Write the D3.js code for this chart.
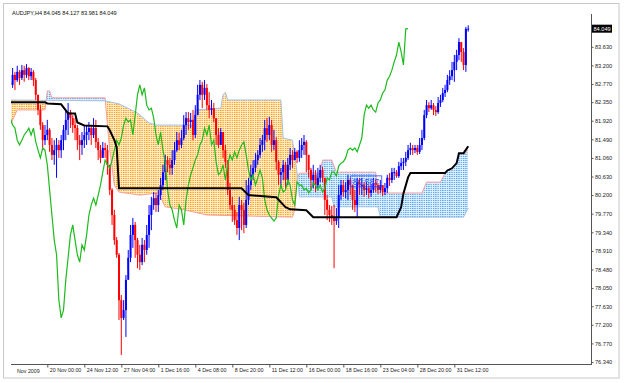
<!DOCTYPE html>
<html>
<head>
<meta charset="utf-8">
<script src="https://cdn.jsdelivr.net/npm/d3@7"></script>
<style>
  body { margin: 0; background: #fff; }
  svg { display: block; }
  text { font-family: "Liberation Sans", Arial, sans-serif; }
</style>
</head>
<body>
<div id="chart"></div>
<script>
// AUDJPY H4, 199 bars (prices)
const closes = [
  82.75,82.98,82.86,83.05,82.91,83.09,82.98,83.14,82.95,83.05,
  82.86,82.52,82.17,81.82,81.47,81.59,81.71,81.36,81.13,81.24,
  81.36,81.24,81.47,81.71,81.94,82.12,81.98,81.82,81.75,81.47,
  81.36,81.47,81.59,81.66,81.75,81.59,81.75,81.43,81.24,81.06,
  81.29,81.24,80.90,80.32,79.74,79.16,78.82,77.77,77.36,77.54,
  78.24,78.75,79.28,79.51,79.16,78.82,78.65,79.05,78.93,79.28,
  79.74,79.97,80.13,79.97,80.20,80.43,80.73,81.01,80.90,80.83,
  81.01,81.24,81.47,81.36,81.52,81.82,81.98,81.89,81.94,81.59,
  82.05,82.52,82.75,82.52,82.68,82.28,82.17,82.21,81.98,81.59,
  81.36,81.66,81.24,80.97,80.32,79.97,79.86,79.62,79.44,79.97,
  79.86,79.51,80.09,80.43,80.67,80.83,81.01,81.13,81.36,81.47,
  81.75,81.59,81.82,81.36,81.47,80.97,80.67,80.73,80.90,80.55,
  80.90,81.13,81.01,81.20,81.06,81.24,81.36,81.43,81.13,80.78,
  80.55,80.67,80.43,80.60,80.78,80.60,80.09,79.86,79.74,79.67,
  79.60,79.67,80.20,80.43,80.27,80.32,80.55,80.43,80.09,79.97,
  80.50,80.43,80.43,80.32,80.36,80.25,80.32,80.48,80.43,80.32,
  80.43,80.27,80.36,80.60,80.55,80.73,80.73,80.64,80.87,80.94,
  80.97,81.06,81.24,81.29,81.24,81.29,81.20,81.36,81.52,82.05,
  82.28,82.21,82.28,82.17,82.12,82.33,82.40,82.56,82.63,82.86,
  82.95,83.09,83.28,83.44,83.74,83.51,83.21,84.045,84.049
];
const highs = [
  83.09,83.14,83.05,83.19,83.09,83.21,83.19,83.23,83.16,83.14,
  83.09,82.91,82.52,82.28,81.89,81.82,81.94,81.75,81.52,81.47,
  81.52,81.47,81.59,81.82,82.17,82.33,82.17,82.05,81.98,81.82,
  81.59,81.66,81.82,81.82,81.89,81.82,81.98,81.94,81.52,81.36,
  81.43,81.41,81.36,80.90,80.36,79.86,79.23,78.86,77.89,77.77,
  78.35,78.93,79.51,79.67,79.58,79.21,79.05,79.21,79.16,79.51,
  79.97,80.16,80.27,80.25,80.32,80.60,80.90,81.13,81.10,81.06,
  81.24,81.43,81.66,81.64,81.71,82.05,82.12,82.12,82.10,82.17,
  82.28,82.75,82.86,82.82,82.86,82.77,82.58,82.40,82.33,81.98,
  81.75,81.75,81.59,81.36,81.01,80.48,80.16,79.97,79.81,80.16,
  80.09,80.02,80.55,80.60,80.90,81.01,81.17,81.24,81.52,81.59,
  81.94,81.98,82.01,81.94,81.71,81.54,81.01,80.83,81.01,80.97,
  81.06,81.29,81.24,81.29,81.24,81.47,81.52,81.59,81.47,81.13,
  80.83,80.90,80.78,80.83,80.90,80.85,80.55,80.20,79.97,79.95,
  79.97,79.90,80.43,80.55,80.55,80.50,80.67,80.60,80.43,80.32,
  80.60,80.60,80.60,80.50,80.50,80.43,80.46,80.60,80.55,80.48,
  80.55,80.43,80.48,80.67,80.71,80.83,80.83,80.78,80.97,81.06,
  81.06,81.20,81.36,81.41,81.36,81.36,81.36,81.52,81.71,82.17,
  82.40,82.35,82.40,82.33,82.26,82.47,82.52,82.68,82.75,82.98,
  83.09,83.28,83.44,83.56,83.83,83.74,83.60,84.09,84.127
];
const lows = [
  82.58,82.68,82.63,82.82,82.75,82.86,82.82,82.91,82.86,82.86,
  82.72,82.40,82.05,81.71,81.24,81.36,81.47,81.20,81.01,80.90,
  80.60,81.06,81.06,81.24,81.47,81.59,81.75,81.64,81.47,81.24,
  81.01,81.13,81.29,81.36,81.47,81.36,81.52,81.29,81.01,80.94,
  81.13,81.06,80.67,80.20,79.51,79.05,78.75,77.31,76.50,77.31,
  76.92,78.47,78.65,78.98,78.75,78.51,78.47,78.58,78.65,78.82,
  78.98,79.39,79.86,79.81,79.81,80.09,80.32,80.55,80.73,80.67,
  80.67,80.90,81.20,81.24,81.29,81.47,81.59,81.71,81.75,81.47,
  81.52,82.05,82.40,82.21,82.40,82.17,81.98,82.05,81.89,81.36,
  81.29,81.36,81.06,80.83,80.20,79.86,79.58,79.51,79.28,79.16,
  79.39,79.32,79.44,79.97,80.32,80.55,80.73,80.90,81.06,81.20,
  81.24,81.43,81.47,81.20,81.24,80.78,80.43,80.36,80.55,80.32,
  80.43,80.78,80.83,81.01,80.94,80.97,81.06,81.13,80.73,80.60,
  80.32,80.36,80.27,80.36,80.50,80.50,79.74,79.62,79.58,79.51,
  78.51,79.51,79.44,80.09,80.16,80.13,80.09,80.20,79.86,79.81,
  79.67,80.20,80.20,80.16,80.20,80.13,80.16,80.25,80.27,80.23,
  80.25,80.18,80.20,80.25,80.41,80.48,80.55,80.60,80.60,80.78,
  80.78,80.87,81.01,81.13,81.13,81.17,81.13,81.15,81.24,81.47,
  81.98,82.12,82.17,82.05,82.03,82.08,82.24,82.35,82.47,82.58,
  82.75,82.86,82.82,83.09,83.32,83.28,83.09,83.05,83.981
];
const FIRST_OPEN = 82.80;

// Ichimoku lines: [bar, price]
const kijun = [
  [0,82.35],[15,82.35],[16,82.32],[22,82.30],[24,82.16],[25,82.09],[28,82.09],
  [29,81.88],[32,81.81],[42,81.79],[43,81.70],[45,81.47],[46,81.31],[47,80.36],
  [100,80.36],[103,80.20],[115,80.15],[119,79.92],[121,79.87],[128,79.85],
  [131,79.69],[167,79.69],[169,79.92],[170,80.24],[172,80.61],[173,80.71],
  [188,80.71],[189,80.77],[191,80.82],[193,80.94],[194,81.17],[196,81.17],[198,81.33]
];
const spanA = [
  [0,81.82],[3,82.17],[15,82.17],[16,82.61],[17,82.61],[18,82.45],[41,82.45],
  [42,81.82],[43,81.24],[45,80.43],[47,80.27],[56,80.20],[64,80.25],[67,79.93],
  [75,79.86],[85,79.74],[122,79.69],[123,79.86],[124,80.55],[125,80.71],
  [134,80.71],[135,81.01],[139,81.01],[141,80.73],[158,80.73],[159,80.25],
  [178,80.25],[180,80.50],[186,80.50],[188,80.71],[189,80.78],[191,80.83],
  [193,80.94],[194,81.17],[197,81.17],[198,81.33]
];
const spanB = [
  [0,82.40],[41,82.38],[47,82.31],[55,82.10],[60,81.87],[63,81.82],[79,81.82],
  [80,82.17],[91,82.21],[92,82.52],[93,82.58],[94,82.40],[117,82.40],[118,81.52],
  [122,81.47],[124,80.73],[125,80.16],[139,80.16],[140,79.93],[159,79.93],
  [160,79.69],[196,79.69],[198,79.90]
];
const CHIKOU_SHIFT = 26;

const priceTicks = [83.63,83.20,82.77,82.35,81.92,81.49,81.06,80.63,80.20,79.77,
                    79.34,78.91,78.48,78.05,77.63,77.20,76.77,76.34];
const dateBars = [16,32,48,64,80,96,112,128,144,160,176,192];
const dateLabels = ["20 Nov 00:00","24 Nov 12:00","27 Nov 04:00","1 Dec 16:00",
  "4 Dec 08:00","8 Dec 20:00","11 Dec 12:00","16 Dec 00:00","18 Dec 16:00",
  "23 Dec 04:00","28 Dec 20:00","31 Dec 12:00"];
const FIRST_LABEL = "Nov 2009";
const TITLE = "AUDJPY,H4  84.045 84.127 83.981 84.049";
const MARK_PRICE = 80.587;
const MARK_BAR = 147;

const W = 625, H = 383;
const PLOT = {left: 11, right: 591, top: 14, bottom: 364};

const svg = d3.select("#chart").append("svg")
  .attr("width", W)
  .attr("height", H);

const x = d3.scaleLinear().domain([0, 198]).range([10.3, 468.2]);
const y = d3.scaleLinear().domain([76.34, 83.63]).range([362, 46.8]);

// frame
svg.append("rect")
  .attr("x", 3.5).attr("y", 3.5)
  .attr("width", 615.5).attr("height", 374.5)
  .attr("fill", "none")
  .attr("stroke", "#c8c8c8");

svg.append("clipPath").attr("id", "plot-clip")
  .append("rect")
  .attr("x", PLOT.left).attr("y", PLOT.top)
  .attr("width", PLOT.right - PLOT.left)
  .attr("height", PLOT.bottom - PLOT.top);

// dotted cloud patterns
const defs = svg.append("defs");
function dotPattern(id, bg, dot) {
  const p = defs.append("pattern")
    .attr("id", id)
    .attr("patternUnits", "userSpaceOnUse")
    .attr("x", x(0) - 0.6).attr("y", 0)
    .attr("width", x(1) - x(0)).attr("height", 2);
  p.append("rect").attr("width", x(1) - x(0)).attr("height", 2).attr("fill", bg);
  p.append("rect").attr("width", 1.3).attr("height", 1.1).attr("fill", dot);
}
dotPattern("dots-orange", "#ffefd2", "#ff9c0a");
dotPattern("dots-blue", "#e4f1fd", "#4ea4f0");

const plot = svg.append("g").attr("clip-path", "url(#plot-clip)");

const areaAbove = pts => d3.area().x(d => x(d[0])).y0(PLOT.top).y1(d => y(d[1]))(pts);
const areaBelow = pts => d3.area().x(d => x(d[0])).y0(d => y(d[1])).y1(PLOT.bottom)(pts);

defs.append("clipPath").attr("id", "below-b").append("path").attr("d", areaBelow(spanB));
defs.append("clipPath").attr("id", "below-a").append("path").attr("d", areaBelow(spanA));

// orange where span B is above span A, blue where A is above B
plot.append("g").attr("clip-path", "url(#below-b)")
  .append("path").attr("d", areaAbove(spanA)).attr("fill", "url(#dots-orange)");
plot.append("g").attr("clip-path", "url(#below-a)")
  .append("path").attr("d", areaAbove(spanB)).attr("fill", "url(#dots-blue)");

const line = d3.line().x(d => x(d[0])).y(d => y(d[1]));

plot.append("path").attr("d", line(spanA))
  .attr("fill", "none").attr("stroke", "#f2a0a6").attr("stroke-width", 1);
plot.append("path").attr("d", line(spanB))
  .attr("fill", "none").attr("stroke", "#a6c2e2").attr("stroke-width", 1);

// candles
const bars = closes.map((c, i) => ({
  i: i,
  o: i ? closes[i - 1] : FIRST_OPEN,
  h: highs[i],
  l: lows[i],
  c: c
}));
const candle = plot.append("g").selectAll("g")
  .data(bars)
  .join("g")
  .attr("fill", d => d.c >= d.o ? "#0000ff" : "#ff0000")
  .attr("stroke", d => d.c >= d.o ? "#0000ff" : "#ff0000");
candle.append("line")
  .attr("x1", d => x(d.i)).attr("x2", d => x(d.i))
  .attr("y1", d => y(d.h)).attr("y2", d => y(d.l))
  .attr("stroke-width", 1);
candle.append("rect")
  .attr("stroke", "none")
  .attr("x", d => x(d.i) - 1)
  .attr("width", 2)
  .attr("y", d => y(Math.max(d.o, d.c)))
  .attr("height", d => Math.max(1, Math.abs(y(d.o) - y(d.c))));

// chikou: closes drawn 26 bars back
const chikou = closes.slice(CHIKOU_SHIFT).map((c, j) => [j, c]);
plot.append("path").attr("d", line(chikou))
  .attr("fill", "none").attr("stroke", "#1cbc1c").attr("stroke-width", 1.2);

plot.append("path").attr("d", line(kijun))
  .attr("fill", "none").attr("stroke", "#000").attr("stroke-width", 2);

// price marker
const markY = y(MARK_PRICE);
svg.append("rect")
  .attr("x", x(MARK_BAR) + 0.5).attr("y", markY - 2.5)
  .attr("width", 31).attr("height", 11)
  .attr("fill", "none").attr("stroke", "#2f3cff").attr("stroke-width", 0.8);
svg.append("text")
  .attr("x", x(MARK_BAR) + 2.5).attr("y", markY + 6.5)
  .attr("font-size", 8.6)
  .attr("fill", "#3a4cff")
  .text(MARK_PRICE.toFixed(3));

// axes
const axisColor = "#555";
svg.append("line")
  .attr("x1", PLOT.left).attr("x2", PLOT.right)
  .attr("y1", PLOT.bottom + 0.5).attr("y2", PLOT.bottom + 0.5)
  .attr("stroke", axisColor);
svg.append("line")
  .attr("x1", PLOT.right + 0.5).attr("x2", PLOT.right + 0.5)
  .attr("y1", PLOT.top).attr("y2", PLOT.bottom + 1)
  .attr("stroke", axisColor);

const yAxis = svg.append("g")
  .attr("transform", `translate(${PLOT.right + 0.5},0)`)
  .call(d3.axisRight(y).tickValues(priceTicks).tickSize(2).tickPadding(1.5)
    .tickFormat(d3.format(".3f")));
yAxis.select(".domain").remove();
yAxis.selectAll("line").attr("stroke", axisColor);
yAxis.selectAll("text")
  .attr("font-size", 5.6)
  .attr("font-family", "Liberation Sans, Arial, sans-serif")
  .attr("fill", "#222");

const xAxis = svg.append("g")
  .attr("transform", `translate(0,${PLOT.bottom + 0.5})`)
  .call(d3.axisBottom(x).tickValues(dateBars).tickSize(3)
    .tickFormat((d, i) => dateLabels[i]));
xAxis.select(".domain").remove();
xAxis.selectAll("line").attr("stroke", axisColor);
xAxis.selectAll("text")
  .attr("text-anchor", "start")
  .attr("dx", 2)
  .attr("y", 4)
  .attr("dy", "0.71em")
  .attr("font-size", 5.3)
  .attr("font-family", "Liberation Sans, Arial, sans-serif")
  .attr("fill", "#222");

svg.append("text")
  .attr("x", 17).attr("y", PLOT.bottom + 8.7)
  .attr("font-size", 5.3)
  .attr("fill", "#222")
  .text(FIRST_LABEL);

// last price box
const lastClose = closes[closes.length - 1];
svg.append("rect")
  .attr("x", PLOT.right + 1).attr("y", y(lastClose) - 4)
  .attr("width", 20).attr("height", 8)
  .attr("fill", "#000");
svg.append("text")
  .attr("x", PLOT.right + 2.5).attr("y", y(lastClose) + 2)
  .attr("font-size", 5.6)
  .attr("fill", "#fff")
  .text(lastClose.toFixed(3));

// title
svg.append("text")
  .attr("x", 12).attr("y", 15)
  .attr("font-size", 5.6)
  .attr("fill", "#111")
  .text(TITLE);
</script>
</body>
</html>
